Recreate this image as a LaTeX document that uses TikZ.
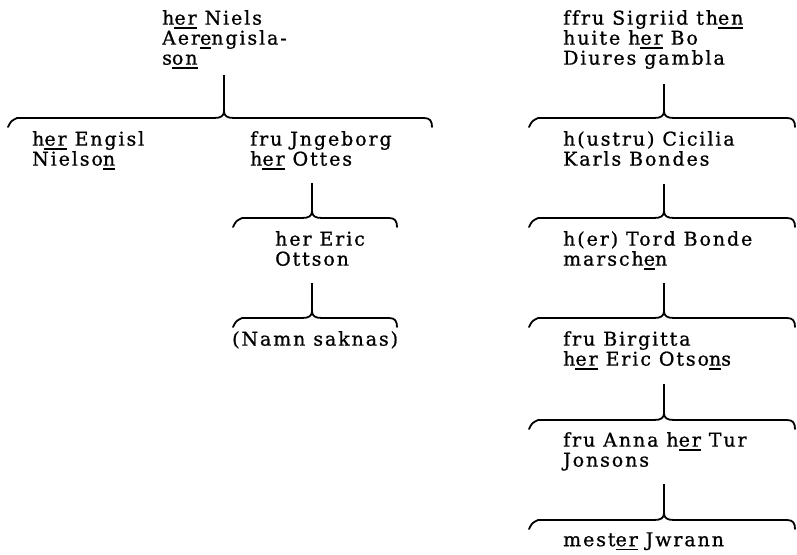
\documentclass[tikz,border=0pt]{standalone}
\usepackage{fontspec}
\newfontfamily\txtfont[LetterSpace=10,FakeBold=0.9,Ligatures=NoCommon]{DejaVu Serif}
\newcommand\ulx[1]{\setbox0=\hbox{#1}\rlap{\rule[-4pt]{\wd0}{1.6pt}}\box0\relax}
\newcommand\tstrut{\rule{0pt}{14pt}}
\newcommand\mybracedraw[4]{%
 \draw[bracestyle] ({#1},{#4+9}) .. controls ({#1+3},{#4+3}) .. ({#1+9},{#4}) -- ({#3-10},{#4}) .. controls ({#3-3},{#4}) and ({#3},{#4-2}) .. ({#3},{#4-7}) .. controls ({#3},{#4-2}) and ({#3+3},{#4}) .. ({#3+10},{#4}) -- ({#2-8},{#4}) .. controls ({#2-2},{#4}) and ({#2},{#4+3}) .. ({#2},{#4+9});}
\begin{document}
\begin{tikzpicture}[x=1pt,y=-1pt,
  bracestyle/.style={line width=1.8pt,line join=round,line cap=round},
  stem/.style={line width=1.8pt},
  txt/.style={anchor=north west,align=left,inner sep=0pt,font=\txtfont\fontsize{19}{20}\selectfont}]
\useasboundingbox (0,0) rectangle (797,554);
% left tree  (y given = first baseline - 14)
\node[txt] (A) at (162,10) {\tstrut h\ulx{er} Niels\\Aer\ulx{e}ngisla-\\s\ulx{on}};
\coordinate (sA) at (224,75);
\coordinate (cA) at (224,111);
\draw[stem] (sA) -- (cA);
\mybracedraw{8}{432}{224}{118}
\node[txt] (B) at (32,131) {\tstrut h\ulx{er} Engisl\\Nielso\ulx{n}};
\node[txt] (C) at (250,131) {\tstrut fru Jngeborg\\h\ulx{er} Ottes};
\coordinate (sC) at (312,183);
\coordinate (cC) at (312,211);
\draw[stem] (sC) -- (cC);
\mybracedraw{233}{397}{312}{218}
\node[txt] (D) at (275,231) {\tstrut her Eric\\Ottson};
\coordinate (sD) at (312,283);
\coordinate (cD) at (312,311);
\draw[stem] (sD) -- (cD);
\mybracedraw{233}{397}{312}{318}
\node[txt] (E) at (232,331) {\tstrut (Namn saknas)};
% right tree
\node[txt] (F) at (563,10) {\tstrut ffru Sigriid th\ulx{en}\\huite h\ulx{er} Bo\\Diures gambla};
\coordinate (sF) at (664,84);
\coordinate (cF) at (664,111);
\draw[stem] (sF) -- (cF);
\mybracedraw{529}{795}{664}{118}
\node[txt] (G) at (563,131) {\tstrut h(ustru) Cicilia\\Karls Bondes};
\coordinate (sG) at (664,184);
\coordinate (cG) at (664,211);
\draw[stem] (sG) -- (cG);
\mybracedraw{529}{795}{664}{218}
\node[txt] (H) at (563,231) {\tstrut h(er) Tord Bonde\\marsch\ulx{e}n};
\coordinate (sH) at (664,283);
\coordinate (cH) at (664,311);
\draw[stem] (sH) -- (cH);
\mybracedraw{529}{795}{664}{318}
\node[txt] (I) at (563,331) {\tstrut fru Birgitta\\h\ulx{er} Eric Otso\ulx{n}s};
\coordinate (sI) at (664,384);
\coordinate (cI) at (664,413);
\draw[stem] (sI) -- (cI);
\mybracedraw{529}{795}{664}{420}
\node[txt] (J) at (563,432) {\tstrut fru Anna h\ulx{er} Tur\\Jonsons};
\coordinate (sJ) at (664,484);
\coordinate (cJ) at (664,513);
\draw[stem] (sJ) -- (cJ);
\mybracedraw{529}{795}{664}{520}
\node[txt] (K) at (563,532) {\tstrut mest\ulx{er} Jwrann};
\end{tikzpicture}
\end{document}
